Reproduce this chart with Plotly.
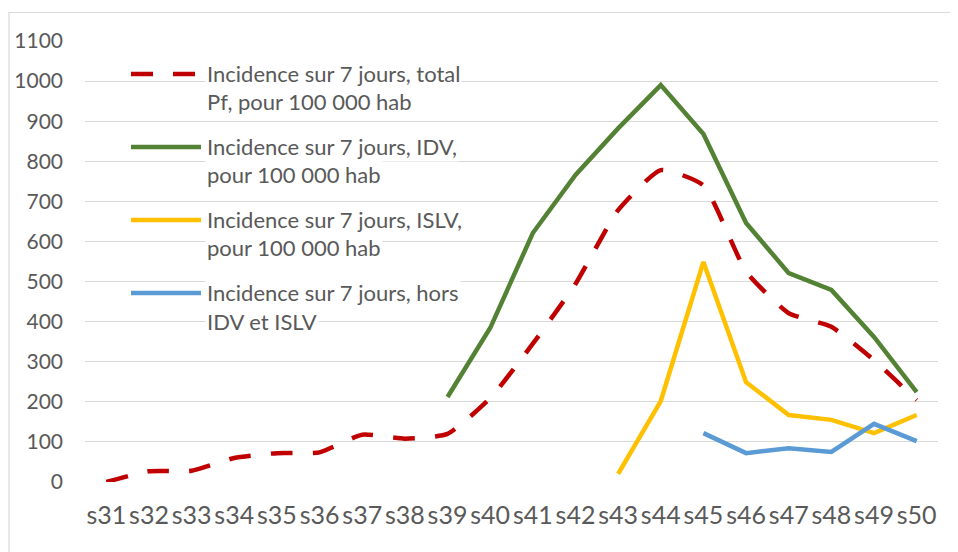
import plotly.graph_objects as go

weeks = ["s31", "s32", "s33", "s34", "s35", "s36", "s37", "s38", "s39", "s40",
         "s41", "s42", "s43", "s44", "s45", "s46", "s47", "s48", "s49", "s50"]
total_pf = [0, 27, 28, 60, 72, 74, 118, 108, 120, 209, 345, 494, 678, 778, 740, 525, 421, 387, 304, 204]
idv = [None] * 8 + [212, 384, 621, 766, 882, 990, 868, 646, 521, 479, 362, 224]
islv = [None] * 12 + [20, 202, 549, 249, 167, 155, 122, 167]
hors = [None] * 14 + [122, 72, 84, 75, 145, 102]
y_ticks = [0, 100, 200, 300, 400, 500, 600, 700, 800, 900, 1000, 1100]

names = [
    ["Incidence sur 7 jours, total", "Pf, pour 100 000 hab"],
    ["Incidence sur 7 jours, IDV,", "pour 100 000 hab"],
    ["Incidence sur 7 jours, ISLV,", "pour 100 000 hab"],
    ["Incidence sur 7 jours, hors", "IDV et ISLV"],
]
colors = ["#C00000", "#548235", "#FFC000", "#5B9BD5"]
series = [total_pf, idv, islv, hors]
dashes = ["22px,20px", "solid", "solid", "solid"]

# the page body adds an 8px margin; compensate so the window shows the target layout
OFF = 8
W, H = 958 - OFF, 552 - OFF
L, R, T, B = 85 - OFF, 20, 41 - OFF, 70
PW, PH = W - L - R, H - T - B
TXT = "#595959"
FONT = "Lato"

def px(x):  # window pixel -> paper
    return (x - OFF - L) / PW

def py(y):
    return (H - B - (y - OFF)) / PH

fig = go.Figure()
for i, (vals, c, d) in enumerate(zip(series, colors, dashes)):
    fig.add_trace(go.Scatter(
        x=weeks, y=vals, mode="lines", name=" ".join(names[i]),
        line=dict(color=c, width=4.5, dash=d,
                  shape="spline" if i == 0 else "linear",
                  smoothing=0.5 if i == 0 else None),
        showlegend=False, connectgaps=False,
    ))

shapes = [dict(type="rect", xref="paper", yref="paper",
               x0=px(9), x1=px(1000), y0=py(600), y1=py(12.5),
               line=dict(color="#D9D9D9", width=1.2), fillcolor="rgba(0,0,0,0)", layer="below")]
annotations = []
sym_y = [74, 147, 220, 293]
for i, y0 in enumerate(sym_y):
    shapes.append(dict(type="line", xref="paper", yref="paper",
                       x0=px(131), x1=px(201), y0=py(y0), y1=py(y0),
                       line=dict(color=colors[i], width=4.5,
                                 dash="22px,20px" if i == 0 else "solid")))
    for j, t in enumerate(names[i]):
        annotations.append(dict(xref="paper", yref="paper", x=px(205), y=py(y0 - 1 + j * 29),
                                text=t, showarrow=False, xanchor="left", yanchor="middle",
                                font=dict(family=FONT, size=22, color=TXT),
                                bgcolor="white"))

fig.update_layout(
    width=W, height=H,
    margin=dict(l=L, r=R, t=T, b=B, autoexpand=False),
    paper_bgcolor="white", plot_bgcolor="white",
    shapes=shapes, annotations=annotations,
    showlegend=False,
    xaxis=dict(type="category", categoryorder="array", categoryarray=weeks,
               range=[-0.5, len(weeks) - 0.5], automargin=False, tickangle=0,
               showgrid=False, zeroline=False, showline=False,
               tickfont=dict(family=FONT, size=25, color=TXT),
               ticklabelstandoff=16),
    yaxis=dict(range=[0, 1100], tickvals=y_ticks, ticktext=[str(v) for v in y_ticks],
               automargin=False,
               showgrid=True, gridcolor="#D9D9D9", gridwidth=1.3,
               zeroline=False, showline=False,
               tickfont=dict(family=FONT, size=21, color=TXT),
               ticklabelstandoff=21),
)

fig.write_html("out.html")
